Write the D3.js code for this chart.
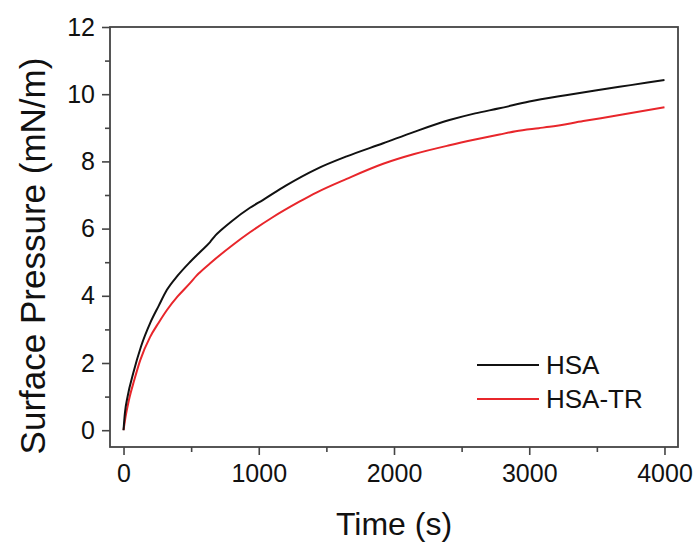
<!DOCTYPE html>
<html>
<head>
<meta charset="utf-8">
<script src="https://cdn.jsdelivr.net/npm/d3@7"></script>
<style>
  body { margin: 0; background: #fff; }
  svg { display: block; font-family: "Liberation Sans", Arial, sans-serif; }
</style>
</head>
<body>
<svg id="chart" width="696" height="542"></svg>
<script>
// time (s) / surface pressure (mN/m)
const hsaTime = [0, 10, 30, 72, 130, 196, 260, 320, 400, 490, 570, 640, 680, 720, 800, 935, 1030, 1200, 1430, 1650, 1920, 2150, 2410, 2600, 2780, 3000, 3270, 3500, 3750, 4000];
const hsaVal  = [0, 0.5, 1.0, 1.7, 2.5, 3.18, 3.7, 4.17, 4.6, 5.0, 5.32, 5.6, 5.8, 5.95, 6.22, 6.62, 6.85, 7.28, 7.78, 8.15, 8.54, 8.88, 9.23, 9.43, 9.58, 9.78, 9.97, 10.12, 10.27, 10.42];

const trTime = [0, 15, 40, 80, 123, 196, 260, 320, 400, 490, 540, 560, 650, 810, 935, 1100, 1300, 1430, 1650, 1920, 2150, 2410, 2600, 2780, 2900, 3070, 3150, 3400, 3700, 4000];
const trVal  = [0, 0.4, 0.9, 1.5, 2.08, 2.77, 3.2, 3.57, 3.98, 4.37, 4.6, 4.68, 5.0, 5.52, 5.89, 6.33, 6.8, 7.08, 7.48, 7.93, 8.22, 8.48, 8.65, 8.8, 8.9, 8.99, 9.03, 9.2, 9.4, 9.61];

const seriesNames = ["HSA", "HSA-TR"];
const seriesColors = ["#111111", "#e8262b"];
const xTicks = [0, 1000, 2000, 3000, 4000];
const yTicks = [0, 2, 4, 6, 8, 10, 12];

const svg = d3.select("#chart");
const mLeft = 110, mRight = 678, mTop = 27, mBottom = 447;

const x = d3.scaleLinear().domain([-100, 4100]).range([mLeft, mRight]);
const y = d3.scaleLinear().domain([-0.5, 12]).range([mBottom, mTop]);

const axisColor = "#444";

// minor ticks
const xMinor = d3.range(0, 4001, 500).filter(d => d % 1000 !== 0);
const yMinor = d3.range(1, 12, 2);

svg.append("g")
    .attr("transform", `translate(0,${mBottom})`)
    .call(d3.axisBottom(x).tickValues(xTicks).tickSize(8).tickPadding(9).tickFormat(d3.format("d")));
svg.append("g")
    .attr("transform", `translate(0,${mBottom})`)
    .call(d3.axisBottom(x).tickValues(xMinor).tickSize(5).tickFormat(""));

svg.append("g")
    .attr("transform", `translate(${mLeft},0)`)
    .call(d3.axisLeft(y).tickValues(yTicks).tickSize(8).tickPadding(7));
svg.append("g")
    .attr("transform", `translate(${mLeft},0)`)
    .call(d3.axisLeft(y).tickValues(yMinor).tickSize(5).tickFormat(""));

svg.selectAll(".domain").remove();
svg.selectAll(".tick line").attr("stroke", axisColor).attr("stroke-width", 1.6);
svg.selectAll(".tick text")
    .attr("fill", "#111")
    .style("font-size", "25px")
    .style("font-family", "'Liberation Sans', Arial, sans-serif");

// frame
svg.append("rect")
    .attr("x", mLeft).attr("y", mTop)
    .attr("width", mRight - mLeft).attr("height", mBottom - mTop)
    .attr("fill", "none")
    .attr("stroke", axisColor)
    .attr("stroke-width", 1.8);

const series = [
  hsaTime.map((t, i) => [t, hsaVal[i]]),
  trTime.map((t, i) => [t, trVal[i]])
];

const line = d3.line()
    .x(d => x(d[0]))
    .y(d => y(d[1]))
    .curve(d3.curveMonotoneX);

// red drawn first so black sits on top near origin
[1, 0].forEach(i => {
  svg.append("path")
      .datum(series[i])
      .attr("fill", "none")
      .attr("stroke", seriesColors[i])
      .attr("stroke-width", 2)
      .attr("d", line);
});

// legend
const legend = svg.append("g");
seriesNames.forEach((name, i) => {
  const ly = 365 + i * 34;
  legend.append("line")
      .attr("x1", 477).attr("x2", 539)
      .attr("y1", ly).attr("y2", ly)
      .attr("stroke", seriesColors[i])
      .attr("stroke-width", 2);
  legend.append("text")
      .attr("x", 546).attr("y", ly + 9)
      .attr("fill", "#111")
      .style("font-size", "26px")
      .text(name);
});

// axis titles
svg.append("text")
    .attr("x", 394).attr("y", 535)
    .attr("text-anchor", "middle")
    .attr("fill", "#111")
    .style("font-size", "32px")
    .text("Time (s)");

svg.append("text")
    .attr("transform", "translate(45,256) rotate(-90)")
    .attr("text-anchor", "middle")
    .attr("fill", "#111")
    .style("font-size", "35px")
    .text("Surface Pressure (mN/m)");
</script>
</body>
</html>
